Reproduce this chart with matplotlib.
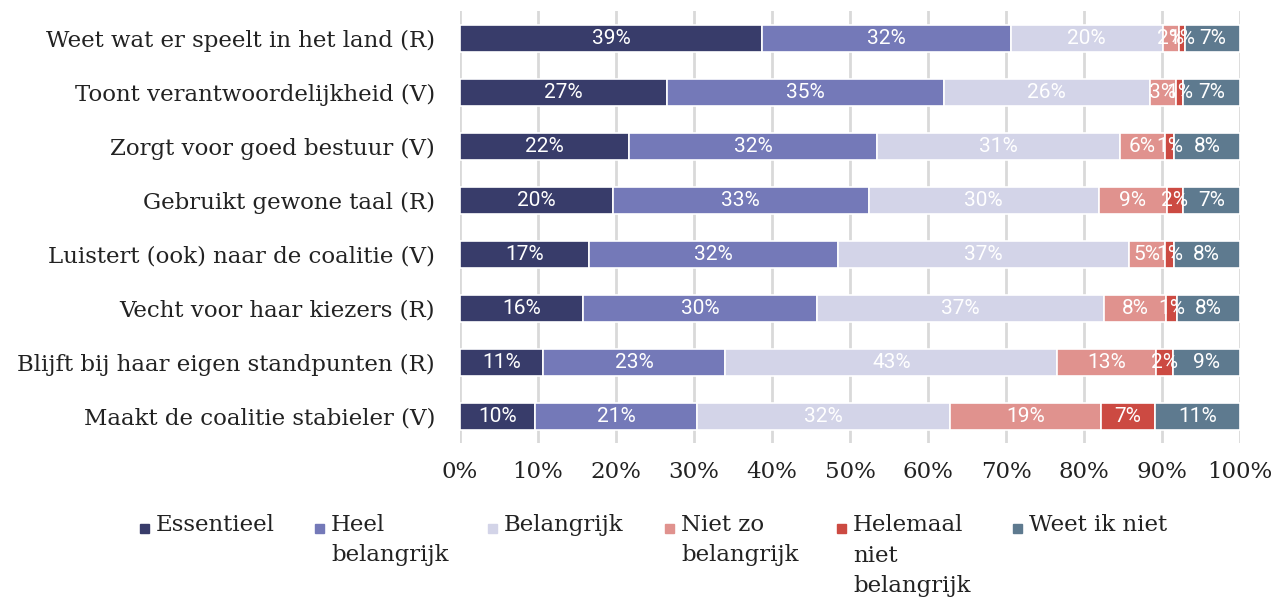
import matplotlib
matplotlib.use("Agg")
import matplotlib.pyplot as plt
from matplotlib.patches import Rectangle
import numpy as np

categories = [
    "Weet wat er speelt in het land (R)",
    "Toont verantwoordelijkheid (V)",
    "Zorgt voor goed bestuur (V)",
    "Gebruikt gewone taal (R)",
    "Luistert (ook) naar de coalitie (V)",
    "Vecht voor haar kiezers (R)",
    "Blijft bij haar eigen standpunten (R)",
    "Maakt de coalitie stabieler (V)",
]
series_names = ["Essentieel", "Heel\nbelangrijk", "Belangrijk", "Niet zo\nbelangrijk",
                "Helemaal\nniet\nbelangrijk", "Weet ik niet"]
essentieel = [38.7, 26.6, 21.7, 19.6, 16.6, 15.8, 10.6, 9.6]
heel       = [31.9, 35.4, 31.8, 32.8, 31.8, 30.0, 23.4, 20.8]
belangrijk = [19.5, 26.4, 31.1, 29.5, 37.4, 36.8, 42.6, 32.4]
niet_zo    = [2.1, 3.4, 5.8, 8.7, 4.6, 7.9, 12.6, 19.4]
helemaal   = [0.7, 0.9, 1.2, 2.1, 1.1, 1.4, 2.2, 6.9]
weet_niet  = [7.1, 7.3, 8.4, 7.3, 8.45, 8.1, 8.6, 10.9]
xticks = [0, 10, 20, 30, 40, 50, 60, 70, 80, 90, 100]

colors = ["#383c6a", "#7479b8", "#d3d4e8", "#e0928e", "#cc4a42", "#5e7a8f"]
series = [essentieel, heel, belangrijk, niet_zo, helemaal, weet_niet]

FS = 16.5
fig = plt.figure(figsize=(12.75, 6.01), dpi=100)
ax = fig.add_axes([460/1275, 1-443/601, 780/1275, 432/601])

y = np.arange(len(categories))
left = np.zeros(len(categories))
for vals, col in zip(series, colors):
    vals = np.array(vals)
    ax.barh(y, vals, left=left, height=0.5, color=col, edgecolor="white",
            linewidth=1.2, zorder=3)
    for yi, l, v in zip(y, left, vals):
        ax.text(l + v/2, yi, f"{round(v):.0f}%", ha="center", va="center",
                color="white", fontsize=15, family="Roboto", zorder=4)
    left = left + vals

ax.set_xlim(0, 100)
ax.set_ylim(len(categories)-0.5, -0.5)
ax.set_yticks(y)
ax.set_yticklabels(categories, family="DejaVu Serif", fontsize=FS, color="#222222")
ax.set_xticks(xticks)
ax.set_xticklabels([f"{t}%" for t in xticks], family="DejaVu Serif", fontsize=FS, color="#222222")
ax.tick_params(axis="both", length=0)
ax.tick_params(axis="x", pad=13)
ax.tick_params(axis="y", pad=18)
ax.grid(axis="x", color="#d9d9d9", linewidth=2, zorder=0)
for s in ax.spines.values():
    s.set_visible(False)

# legend
leg_x = [140, 315, 488, 665, 837, 1013]
for name, col, lx in zip(series_names, colors, leg_x):
    fig.add_artist(Rectangle((lx/1275, 1-533/601), 9/1275, 9/601,
                             transform=fig.transFigure, color=col))
    fig.text((lx+16)/1275, 1-514/601, name, ha="left", va="top",
             family="DejaVu Serif", fontsize=FS, color="#222222", linespacing=1.5)

fig.savefig("out.png", dpi=100)
